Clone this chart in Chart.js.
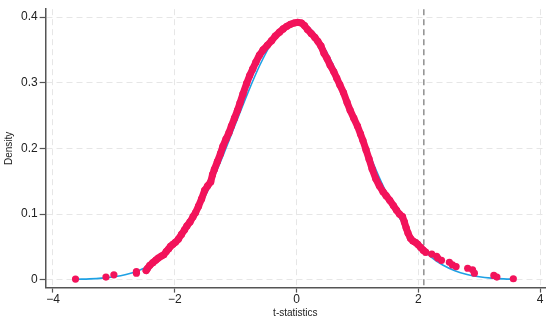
<!DOCTYPE html>
<html>
<head>
<meta charset="utf-8">
<title>t-statistics density</title>
<script src="https://cdn.jsdelivr.net/npm/chart.js@4/dist/chart.umd.min.js"></script>
<style>
  html, body { margin: 0; padding: 0; background: #fff; }
  #wrap { width: 550px; height: 322px; }
</style>
</head>
<body>
<div id="wrap"><canvas id="chart" width="550" height="322"></canvas></div>
<script>
// Fitted normal density (blue line)
var normalX = [-3.6, -3.4, -3.2, -3.0, -2.8, -2.6, -2.4, -2.2, -2.0, -1.8, -1.6, -1.4, -1.2, -1.0, -0.8, -0.6, -0.4, -0.2, 0,
               0.2, 0.4, 0.6, 0.8, 1.0, 1.2, 1.4, 1.6, 1.8, 2.0, 2.2, 2.4, 2.6, 2.8, 3.0, 3.2, 3.4, 3.6];
var normalY = [0.0007, 0.0013, 0.0025, 0.0046, 0.0081, 0.0138, 0.0224, 0.0352, 0.0532, 0.0778, 0.1092, 0.1472, 0.1908, 0.2378, 0.2846, 0.3274, 0.3619, 0.3842, 0.3920,
               0.3842, 0.3619, 0.3274, 0.2846, 0.2378, 0.1908, 0.1472, 0.1092, 0.0778, 0.0532, 0.0352, 0.0224, 0.0138, 0.0081, 0.0046, 0.0025, 0.0013, 0.0007];

// Empirical density, dense middle part (pink band)
var denseX = [-2.47, -2.45, -2.41, -2.36, -2.31, -2.27, -2.22, -2.18, -2.14, -2.10, -2.07, -2.03, -1.99, -1.94, -1.89, -1.84, -1.80, -1.75, -1.70, -1.66,
              -1.61, -1.56, -1.51, -1.46, -1.41, -1.38, -1.35, -1.30, -1.25, -1.21, -1.16, -1.11, -1.07, -1.02, -0.97, -0.93, -0.88, -0.82, -0.77, -0.72,
              -0.67, -0.61, -0.55, -0.48, -0.41, -0.35, -0.28, -0.22, -0.16, -0.10, -0.04, 0.02, 0.08, 0.13, 0.18, 0.24, 0.30, 0.35, 0.40, 0.45,
              0.50, 0.55, 0.61, 0.66, 0.71, 0.77, 0.83, 0.88, 0.94, 1.00, 1.05, 1.09, 1.14, 1.19, 1.24, 1.30, 1.36, 1.42, 1.47, 1.53,
              1.59, 1.64, 1.69, 1.74, 1.77, 1.80, 1.83, 1.87, 1.91, 1.95, 1.99, 2.04, 2.08, 2.12];
var denseY = [0.014, 0.017, 0.022, 0.026, 0.030, 0.033, 0.036, 0.038, 0.043, 0.047, 0.051, 0.054, 0.057, 0.062, 0.069, 0.076, 0.082, 0.088, 0.096, 0.102,
              0.112, 0.123, 0.136, 0.143, 0.149, 0.160, 0.168, 0.180, 0.192, 0.203, 0.214, 0.224, 0.234, 0.246, 0.258, 0.269, 0.283, 0.299, 0.311, 0.321,
              0.331, 0.342, 0.350, 0.357, 0.364, 0.371, 0.377, 0.382, 0.386, 0.389, 0.391, 0.392, 0.391, 0.387, 0.381, 0.375, 0.369, 0.363, 0.356, 0.345,
              0.337, 0.327, 0.317, 0.307, 0.297, 0.285, 0.270, 0.258, 0.246, 0.234, 0.222, 0.212, 0.198, 0.184, 0.169, 0.154, 0.143, 0.134, 0.128, 0.121,
              0.113, 0.106, 0.100, 0.096, 0.088, 0.079, 0.071, 0.063, 0.059, 0.057, 0.054, 0.049, 0.045, 0.042];

// Empirical density, single points out in the tails
var tailX = [-3.63, -3.13, -3.00, -2.63, -2.63, 2.22, 2.30, 2.32, 2.38, 2.51, 2.56, 2.62, 2.81, 2.89, 2.92, 3.24, 3.29, 3.56];
var tailY = [0.001, 0.004, 0.0075, 0.010, 0.0125, 0.039, 0.0355, 0.033, 0.0295, 0.0265, 0.0225, 0.020, 0.0175, 0.015, 0.010, 0.0065, 0.004, 0.0015];

var xTicks = [-4, -2, 0, 2, 4];
var yTicks = [0, 0.1, 0.2, 0.3, 0.4];
var critValue = 2.09;

var pink = '#f2135b';
var blue = '#1ea1e4';

function pairs(xs, ys) {
    var out = [];
    for (var i = 0; i < xs.length; i++) {
        out.push({x: xs[i], y: ys[i]});
    }
    return out;
}

//--------------------------------------------------------------------
// * dashed critical value line, under the data
//--------------------------------------------------------------------
var critLine = {
    id: 'critLine',
    beforeDatasetsDraw: function(chart) {
        var area = chart.chartArea;
        var x = chart.scales.x.getPixelForValue(critValue);
        var ctx = chart.ctx;
        ctx.save();
        ctx.strokeStyle = '#8f8f8f';
        ctx.lineWidth = 1.5;
        ctx.setLineDash([6, 4]);
        ctx.beginPath();
        ctx.moveTo(x, area.top);
        ctx.lineTo(x, area.bottom);
        ctx.stroke();
        ctx.restore();
    }
};

var tickFont = {family: "'Liberation Sans', Arial, sans-serif", size: 12};
var titleFont = {family: "'Liberation Sans', Arial, sans-serif", size: 10};

var ctx = document.getElementById('chart').getContext('2d');
var chart = new Chart(ctx, {
    type: 'scatter',
    data: {
        datasets: [{
            label: 'dense',
            data: pairs(denseX, denseY),
            showLine: true,
            borderColor: pink,
            backgroundColor: pink,
            borderWidth: 7,
            borderJoinStyle: 'round',
            borderCapStyle: 'round',
            pointRadius: 3.6,
            pointBorderWidth: 0,
            order: 1
        }, {
            label: 'tails',
            data: pairs(tailX, tailY),
            showLine: false,
            backgroundColor: pink,
            borderColor: pink,
            pointRadius: 3.6,
            pointBorderWidth: 0,
            order: 2
        }, {
            label: 'normal',
            data: pairs(normalX, normalY),
            showLine: true,
            borderColor: blue,
            borderWidth: 1.6,
            pointRadius: 0,
            cubicInterpolationMode: 'monotone',
            order: 3
        }]
    },
    options: {
        responsive: false,
        animation: false,
        layout: {padding: {top: 2, right: 5, left: 3, bottom: 3}},
        plugins: {
            legend: {display: false},
            tooltip: {enabled: false}
        },
        scales: {
            x: {
                type: 'linear',
                min: -4.12,
                max: 4.08,
                afterBuildTicks: function(axis) {
                    axis.ticks = xTicks.map(function(v) { return {value: v}; });
                },
                ticks: {
                    color: '#222',
                    font: tickFont,
                    padding: 0,
                    maxRotation: 0,
                    callback: function(v) { return v < 0 ? '\u2212' + Math.abs(v) : String(v); }
                },
                grid: {
                    color: '#e6e6e6',
                    lineWidth: 1,
                    tickColor: '#555',
                    tickLength: 5,
                    tickWidth: 1.2
                },
                border: {color: '#555', width: 1.5, dash: [6, 4]},
                title: {display: true, text: 't-statistics', color: '#222', font: titleFont, padding: {top: 0, bottom: 0}}
            },
            y: {
                type: 'linear',
                min: -0.012,
                max: 0.412,
                afterBuildTicks: function(axis) {
                    axis.ticks = yTicks.map(function(v) { return {value: v}; });
                },
                ticks: {
                    color: '#222',
                    font: tickFont,
                    padding: 2,
                    callback: function(v) { return String(Math.round(v * 10) / 10); }
                },
                grid: {
                    color: '#e6e6e6',
                    lineWidth: 1,
                    tickColor: '#555',
                    tickLength: 6,
                    tickWidth: 1.2
                },
                border: {color: '#555', width: 1.5, dash: [6, 4]},
                title: {display: true, text: 'Density', color: '#222', font: titleFont, padding: {top: 0, bottom: 4}}
            }
        }
    },
    plugins: [critLine]
});
</script>
</body>
</html>
